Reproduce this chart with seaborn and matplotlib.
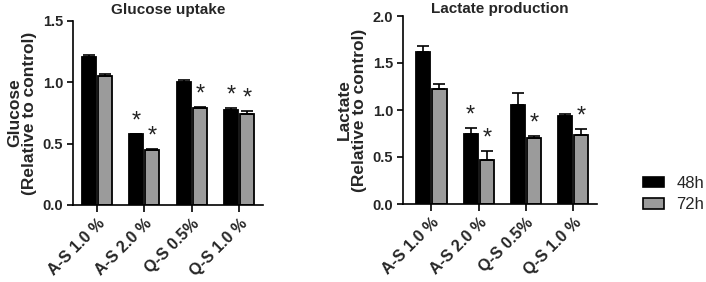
import pandas as pd
import numpy as np
import matplotlib.pyplot as plt
import matplotlib.patches as mpatches
import seaborn as sns

sns.set_theme(style='ticks')
plt.rcParams['font.family'] = ['Liberation Sans', 'DejaVu Sans']

# ---- data ----
groups = ['A-S 1.0 %', 'A-S 2.0 %', 'Q-S 0.5%', 'Q-S 1.0 %']
times = ['48h', '72h']

glucose_48 = [1.21, 0.575, 1.00, 0.775]
glucose_72 = [1.05, 0.445, 0.79, 0.74]
glucose_48_err = [0.01, 0.005, 0.015, 0.015]
glucose_72_err = [0.015, 0.015, 0.008, 0.025]
glucose_star_48 = [False, True, False, True]
glucose_star_72 = [False, True, True, True]

lactate_48 = [1.62, 0.74, 1.05, 0.94]
lactate_72 = [1.22, 0.47, 0.70, 0.73]
lactate_48_err = [0.06, 0.07, 0.13, 0.015]
lactate_72_err = [0.06, 0.09, 0.02, 0.07]
lactate_star_48 = [False, True, False, False]
lactate_star_72 = [False, True, True, True]

colors = ['black', '#9b9b9b']


def long_df(v48, v72):
    return pd.DataFrame({
        'group': groups * 2,
        'time': [times[0]] * len(groups) + [times[1]] * len(groups),
        'value': list(v48) + list(v72),
    })


fig = plt.figure(figsize=(7.06, 2.82), dpi=100)
ax1 = fig.add_axes([73 / 706, 1 - 205 / 282, 190 / 706, 184 / 282])
ax2 = fig.add_axes([403 / 706, 1 - 204 / 282, 194 / 706, 188 / 282])

panels = [
    (ax1, glucose_48, glucose_72, glucose_48_err, glucose_72_err,
     glucose_star_48, glucose_star_72, 'Glucose uptake',
     'Glucose\n(Relative to control)', 1.5, (-0.5, 3.5), 5),
    (ax2, lactate_48, lactate_72, lactate_48_err, lactate_72_err,
     lactate_star_48, lactate_star_72, 'Lactate production',
     'Lactate\n(Relative to control)', 2.0, (-0.6, 3.5), 1.5),
]

for (ax, v48, v72, e48, e72, s48, s72, title, ylabel, ytop, xlim, tpad) in panels:
    df = long_df(v48, v72)
    sns.barplot(data=df, x='group', y='value', hue='time', order=groups,
                hue_order=times, palette=colors, width=0.68, gap=0.12,
                edgecolor='black', linewidth=1.3, errorbar=None,
                legend=False, ax=ax)

    # error bars (upper only) and significance stars
    bars = ax.patches
    vals = list(v48) + list(v72)
    errs = list(e48) + list(e72)
    stars = list(s48) + list(s72)
    for bar, v, e, s in zip(bars, vals, errs, stars):
        xc = bar.get_x() + bar.get_width() / 2
        ax.errorbar(xc, v, yerr=[[0], [e]], fmt='none', ecolor='black',
                    elinewidth=1.2, capsize=4, capthick=1.2, zorder=3)
        if s:
            ax.annotate('*', (xc, v + e), xytext=(0, 9), textcoords='offset points',
                        ha='center', va='center', fontsize=17, color='#222222')

    ax.set_ylim(0, ytop)
    ax.set_xlim(*xlim)
    ax.set_yticks(np.arange(0, ytop + 0.01, 0.5))
    ax.set_yticklabels([f'{t:.1f}' for t in np.arange(0, ytop + 0.01, 0.5)],
                       fontsize=10.5, fontweight='bold')
    ax.set_xticks(range(len(groups)))
    ax.set_xticklabels(groups, rotation=45, ha='right', rotation_mode='anchor',
                       fontsize=11.5, fontweight='bold')
    ax.tick_params(axis='both', width=1.2, length=4, color='black', pad=3)
    ax.tick_params(axis='x', length=5)
    ax.set_xlabel('')
    ax.set_ylabel(ylabel, fontsize=12.5, fontweight='bold', linespacing=1.0, labelpad=4)
    ax.set_title(title, fontsize=11, fontweight='bold', pad=tpad)
    for sp in ['left', 'bottom']:
        ax.spines[sp].set_linewidth(1.2)
        ax.spines[sp].set_color('black')
    sns.despine(ax=ax)

handles = [mpatches.Patch(facecolor=c, edgecolor='black', linewidth=1.2, label=t)
           for c, t in zip(colors, times)]
fig.legend(handles=handles, loc='center left', bbox_to_anchor=(643 / 706, 1 - 194 / 282),
           frameon=False, fontsize=12, handlelength=1.26, handleheight=0.6,
           handletextpad=0.75, labelspacing=0.4, borderpad=0, borderaxespad=0)

fig.savefig('out.png', dpi=100)
